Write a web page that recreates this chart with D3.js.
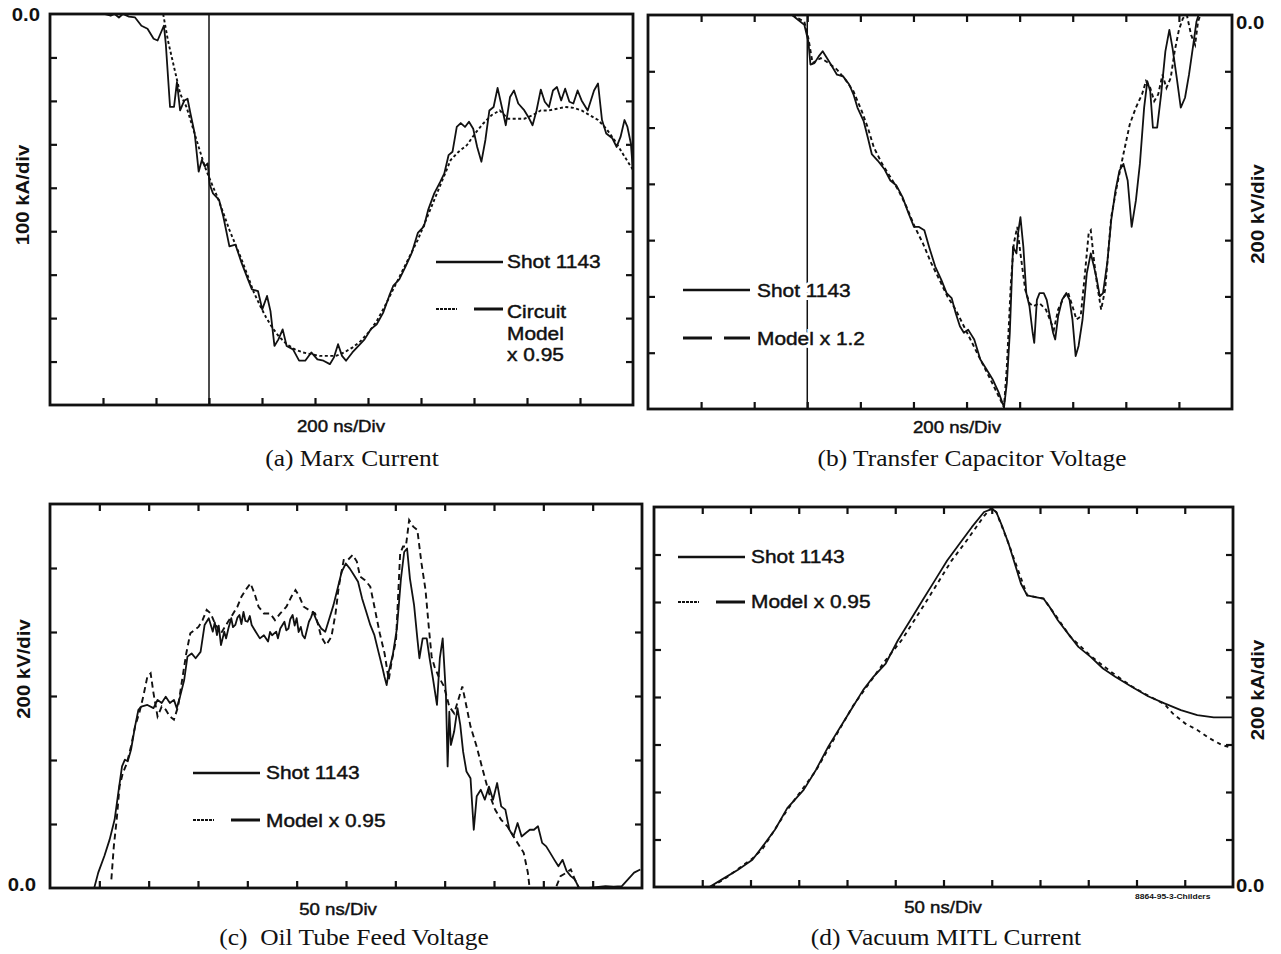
<!DOCTYPE html>
<html>
<head>
<meta charset="utf-8">
<script src="https://cdn.jsdelivr.net/npm/d3@7"></script>
<style>
  body { margin: 0; background: #fff; }
  svg { display: block; }
</style>
</head>
<body>
<div id="chart"></div>
<script>
// (a) Marx current, time in ns, current in kA
var marxShot = [[205,0],[229,-4],[244,0],[260,-8],[275,0],[298,-6],[321,-8],[345,-27],[368,-34],[391,-57],[406,-61],[422,-38],[430,-27],[437,-69],[453,-214],[468,-214],[479,-157],[491,-222],[507,-199],[519,-195],[530,-229],[546,-275],[561,-363],[573,-336],[584,-351],[595,-344],[603,-393],[615,-413],[638,-428],[654,-466],[677,-535],[700,-531],[723,-573],[747,-611],[762,-634],[785,-638],[801,-680],[819,-649],[832,-684],[847,-764],[862,-749],[878,-726],[893,-764],[917,-772],[940,-798],[963,-798],[986,-779],[1009,-795],[1032,-798],[1056,-806],[1071,-791],[1087,-760],[1102,-787],[1117,-798],[1141,-779],[1164,-764],[1187,-749],[1210,-726],[1233,-714],[1257,-688],[1280,-649],[1295,-626],[1318,-611],[1342,-581],[1365,-550],[1388,-504],[1411,-489],[1427,-451],[1450,-413],[1473,-386],[1488,-367],[1504,-325],[1519,-317],[1535,-260],[1550,-251],[1566,-260],[1581,-248],[1597,-264],[1612,-306],[1628,-340],[1643,-290],[1658,-222],[1674,-214],[1689,-170],[1705,-214],[1720,-256],[1736,-191],[1751,-176],[1767,-206],[1790,-222],[1805,-237],[1821,-256],[1836,-222],[1852,-174],[1867,-202],[1883,-214],[1898,-176],[1913,-168],[1929,-199],[1944,-172],[1960,-202],[1975,-206],[1991,-176],[2006,-199],[2029,-222],[2053,-176],[2068,-160],[2083,-244],[2099,-275],[2122,-286],[2138,-306],[2153,-283],[2168,-244],[2179,-260],[2192,-298],[2200,-363]];
var marxModel = [[427,0],[445,-61],[468,-122],[491,-183],[515,-214],[538,-260],[561,-306],[584,-351],[607,-386],[631,-420],[654,-458],[677,-497],[700,-531],[723,-565],[747,-604],[770,-642],[793,-672],[816,-699],[839,-722],[862,-741],[893,-760],[924,-772],[955,-779],[986,-783],[1017,-787],[1048,-787],[1079,-787],[1110,-779],[1141,-768],[1172,-753],[1202,-733],[1233,-707],[1264,-672],[1295,-634],[1326,-596],[1357,-558],[1388,-520],[1419,-474],[1450,-428],[1481,-382],[1512,-336],[1542,-317],[1573,-302],[1604,-275],[1635,-252],[1666,-233],[1697,-222],[1728,-241],[1759,-241],[1790,-241],[1821,-233],[1852,-222],[1883,-222],[1913,-218],[1944,-214],[1975,-216],[2006,-222],[2037,-233],[2068,-244],[2099,-264],[2130,-290],[2161,-321],[2200,-359]];

// (b) transfer capacitor voltage, ns / kV
var transferShot = [[543,0],[566,-18],[589,-35],[604,-94],[612,-176],[627,-171],[643,-147],[658,-129],[674,-153],[689,-176],[712,-212],[735,-218],[758,-247],[774,-282],[789,-329],[812,-376],[828,-435],[843,-494],[866,-518],[890,-547],[913,-588],[936,-606],[959,-647],[982,-706],[1002,-753],[1021,-753],[1041,-765],[1059,-824],[1082,-894],[1105,-941],[1125,-988],[1144,-1006],[1159,-1059],[1175,-1106],[1190,-1129],[1206,-1118],[1229,-1153],[1252,-1224],[1275,-1259],[1298,-1294],[1321,-1341],[1341,-1394],[1352,-1306],[1363,-1129],[1375,-824],[1388,-847],[1394,-776],[1403,-718],[1414,-824],[1425,-988],[1437,-1035],[1449,-1129],[1455,-1165],[1465,-1012],[1475,-988],[1491,-988],[1502,-1012],[1514,-1071],[1526,-1129],[1534,-1153],[1545,-1071],[1560,-1012],[1576,-988],[1588,-1012],[1599,-1082],[1611,-1212],[1622,-1176],[1637,-1082],[1653,-918],[1668,-847],[1680,-894],[1691,-941],[1702,-1000],[1714,-988],[1730,-882],[1745,-729],[1761,-624],[1776,-553],[1791,-529],[1807,-588],[1822,-753],[1838,-659],[1853,-529],[1869,-329],[1881,-235],[1892,-271],[1902,-400],[1918,-400],[1933,-282],[1949,-129],[1964,-53],[1976,-118],[1992,-224],[2007,-329],[2023,-294],[2038,-212],[2054,-106],[2066,-24],[2074,0]];
var transferModel = [[543,0],[589,-24],[604,-82],[620,-171],[651,-153],[681,-171],[712,-194],[743,-229],[774,-271],[805,-341],[828,-400],[851,-471],[882,-529],[913,-576],[944,-624],[974,-682],[1005,-753],[1036,-812],[1067,-882],[1098,-941],[1128,-1000],[1159,-1047],[1190,-1106],[1221,-1165],[1252,-1224],[1283,-1282],[1314,-1341],[1341,-1394],[1352,-1247],[1367,-953],[1378,-812],[1391,-753],[1403,-847],[1421,-976],[1437,-1024],[1452,-1035],[1475,-1024],[1499,-1047],[1514,-1082],[1529,-1118],[1545,-1047],[1568,-1000],[1583,-988],[1599,-1035],[1614,-1082],[1630,-1071],[1645,-929],[1660,-776],[1668,-765],[1680,-871],[1691,-953],[1707,-1047],[1722,-976],[1745,-718],[1768,-600],[1791,-494],[1815,-388],[1838,-329],[1861,-282],[1876,-235],[1892,-259],[1907,-306],[1922,-282],[1938,-212],[1953,-259],[1969,-224],[1984,-129],[2000,-53],[2015,-12],[2030,0],[2046,-71],[2061,-106],[2072,-24],[2081,0]];

// (c) oil tube feed voltage, ns / kV
var oilShot = [[44.8,0],[48.9,48],[55.1,100],[60.5,152],[65.5,214],[69.7,308],[73.0,380],[75.9,401],[78.8,396],[82.1,432],[86.2,505],[89.6,557],[92.5,567],[98.7,572],[104.9,562],[109.0,588],[113.2,578],[117.3,598],[121.5,578],[125.6,588],[128.5,562],[131.8,598],[136.0,650],[139.3,723],[143.5,733],[147.6,718],[152.6,738],[156.7,822],[160.9,843],[165.0,801],[167.0,830],[169.2,790],[171.0,820],[173.3,759],[176.6,801],[178.5,780],[180.8,811],[183.7,843],[185.5,815],[187.8,822],[190.0,845],[192.0,853],[194.0,825],[196.1,863],[198.0,835],[200.3,832],[202.5,850],[204.4,822],[208.5,801],[212.7,780],[216.8,790],[221.0,770],[223.0,800],[225.1,790],[229.3,801],[231.0,780],[233.4,811],[237.6,832],[239.5,805],[241.7,811],[243.5,840],[245.9,853],[248.0,820],[250.0,843],[252.0,800],[254.2,816],[256.0,790],[258.3,780],[262.4,832],[264.5,845],[266.6,863],[270.7,832],[274.9,811],[279.0,801],[283.2,843],[287.3,884],[291.5,936],[295.6,988],[299.8,1014],[303.9,998],[308.0,978],[312.2,957],[316.3,905],[320.5,863],[324.6,822],[328.8,790],[332.9,738],[337.1,686],[339.0,660],[341.2,634],[343.3,676],[347.4,728],[351.6,811],[355.7,967],[359.0,1050],[361.9,1061],[364.8,967],[369.0,884],[372.3,780],[374.4,718],[377.7,780],[381.8,780],[384.7,718],[388.1,655],[392.2,572],[395.1,718],[398.0,780],[401.3,603],[403.0,380],[404.7,551],[406.3,447],[409.6,489],[413.0,562],[415.8,510],[418.7,426],[422.1,364],[426.2,343],[429.5,182],[432.5,287],[436.6,307],[440.7,276],[444.9,317],[449.0,276],[453.2,328],[457.3,255],[461.5,245],[465.6,182],[469.7,161],[473.9,203],[478.0,161],[482.2,172],[486.3,182],[490.5,182],[494.6,193],[498.8,141],[502.9,130],[507.1,109],[511.2,88],[515.3,68],[519.5,88],[523.6,53],[527.8,37],[531.9,27],[536.1,0],[546.4,0],[563.0,6],[571.3,4],[579.6,6],[585.8,27],[592.0,48],[598.3,58]];
var oilModel = [[62.2,27],[64.7,131],[67.6,214],[70.5,318],[73.8,359],[77.9,390],[82.1,442],[86.2,505],[90.4,546],[94.5,598],[98.7,661],[102.0,671],[104.9,609],[109.0,536],[113.2,567],[117.3,557],[121.5,536],[125.6,526],[129.8,567],[133.9,650],[138.1,733],[142.2,796],[146.4,806],[150.5,816],[154.6,837],[158.8,869],[162.9,858],[167.1,827],[173.3,796],[179.5,827],[185.7,858],[189.9,879],[194.0,910],[198.2,931],[203.2,952],[207.3,920],[211.4,879],[216.8,858],[223.1,858],[228.0,837],[233.4,858],[239.6,879],[244.6,910],[248.8,931],[252.9,910],[257.1,879],[262.4,869],[268.7,858],[274.9,785],[279.9,759],[285.2,785],[289.4,858],[292.7,942],[297.7,1025],[301.8,1025],[306.8,1041],[311.0,1020],[314.3,973],[319.2,962],[324.6,942],[328.8,879],[334.2,796],[339.1,733],[343.3,650],[346.6,713],[350.7,775],[354.9,1046],[357.8,1067],[360.7,1067],[364.0,1150],[368.2,1129],[372.3,1119],[376.5,1015],[380.6,931],[383.9,816],[386.8,723],[389.7,692],[393.9,661],[399.3,630],[404.7,567],[409.6,546],[413.8,588],[417.9,630],[422.1,567],[426.2,505],[432.4,442],[438.6,369],[444.9,297],[451.1,245],[457.3,213],[463.5,193],[471.8,151],[480.1,110],[484.3,48],[485.9,6]];
var oilModelTail = [[513.3,6],[517.4,37],[523.6,48],[527.8,58],[531.9,27],[536.1,0]];

// (d) vacuum MITL current, ns / kA
var mitlShot = [[57.4,0],[70.1,31],[87.1,73],[102.0,115],[112.6,171],[125.3,241],[138.1,332],[155.1,409],[167.8,493],[180.6,591],[193.3,675],[206.1,759],[216.7,829],[227.3,885],[240.1,941],[252.8,1039],[265.6,1123],[278.3,1207],[291.1,1291],[303.8,1375],[316.6,1445],[329.3,1515],[342.0,1579],[350.5,1592],[354.8,1578],[361.2,1515],[367.5,1445],[373.9,1361],[380.3,1277],[386.7,1228],[395.2,1221],[403.7,1214],[410.0,1179],[418.5,1123],[429.1,1067],[439.8,1011],[452.5,969],[465.3,920],[478.0,885],[495.0,843],[512.0,803],[529.0,773],[546.0,745],[563.0,724],[580.0,714],[600.0,714]];
var mitlModel = [[59.5,0],[74.4,38],[102.0,120],[112.6,161],[138.1,325],[167.8,490],[206.1,762],[240.1,955],[257.1,1042],[282.6,1205],[308.0,1372],[325.0,1464],[342.0,1562],[349.7,1597],[354.8,1578],[367.5,1445],[386.7,1228],[403.7,1214],[418.5,1130],[431.2,1055],[452.5,973],[473.8,905],[495.0,845],[512.0,806],[529.0,770],[537.5,731],[550.3,689],[563.0,661],[575.7,626],[588.4,598],[600.0,584]];

var shotLabel = "Shot 1143";
var modelLabels = [["Circuit", "Model", "x 0.95"], ["Model x 1.2"], ["Model x 0.95"], ["Model x 0.95"]];
var timeLabels = ["200 ns/Div", "200 ns/Div", "50 ns/Div", "50 ns/Div"];
var ampLabels = ["100 kA/div", "200 kV/div", "200 kV/div", "200 kA/div"];
var captions = ["(a) Marx Current", "(b) Transfer Capacitor Voltage", "(c)  Oil Tube Feed Voltage", "(d) Vacuum MITL Current"];
var zeroLabel = "0.0";
var markerTime = 600;

function init() {
    var W = 1281, H = 954;
    var SX = 1.13;   // the scan is a bit wide
    var sans = "'Liberation Sans', Arial, Helvetica, sans-serif";
    var serif = "'Liberation Serif', 'Times New Roman', serif";

    var svg = d3.select("#chart").append("svg")
        .attr("width", W)
        .attr("height", H);

    function txt(x, y, s, size, o) {
        o = o || {};
        var copies = o.halo ? ["halo", "ink"] : ["ink"];
        var t;
        copies.forEach(function (kind) {
            t = svg.append("text")
                .attr("transform", "translate(" + x + "," + y + ")" + (o.rot ? " rotate(" + o.rot + ")" : "") + " scale(" + SX + ",1)")
                .attr("font-family", o.serif ? serif : sans)
                .attr("font-size", size)
                .attr("font-weight", o.bold ? "bold" : null)
                .attr("text-anchor", o.anchor || "start")
                .attr("fill", kind == "halo" ? "#fff" : "#111")
                .style("white-space", "pre")
                .text(s);
            if (o.mid) t.attr("dominant-baseline", "central");
            if (kind == "halo") {
                t.attr("stroke", "#fff").attr("stroke-width", 6);
            } else if (!o.serif && !o.bold) {
                t.attr("stroke", "#111").attr("stroke-width", 0.45);
            }
        });
        return t;
    }

    var panels = [
        { x0: 50, y0: 14, x1: 633, y1: 405, xmax: 2200, ymin: -900, ymax: 0, nx: 11, ny: 9, top: false,
          shot: [marxShot], model: [marxModel], dash: "3,2.5", marker: true,
          zero: [40, 15, "end"], amp: [29, 195], time: [341, 432], cap: [352, 466],
          leg: { x: 436, ys: 262, yd: 309, tx: 507, bs: 268, bm: [318, 340, 361], halo: false } },
        { x0: 648, y0: 15, x1: 1232, y1: 409, xmax: 2200, ymin: -1400, ymax: 0, nx: 11, ny: 7, top: true,
          shot: [transferShot], model: [transferModel], dash: "4,3", marker: true,
          zero: [1236, 23, "start"], amp: [1264, 214], time: [957, 433], cap: [972, 466],
          leg: { x: 683, ys: 290, yd: 338, tx: 757, bs: 297, bm: [345], halo: true, long: true } },
        { x0: 50, y0: 504, x1: 642, y1: 888, xmax: 600, ymin: 0, ymax: 1200, nx: 12, ny: 6, top: true,
          shot: [oilShot], model: [oilModel, oilModelTail], dash: "6,4", marker: false,
          zero: [36, 885, "end"], amp: [30, 669], time: [338, 915], cap: [354, 945],
          leg: { x: 193, ys: 773, yd: 820, tx: 266, bs: 779, bm: [827], halo: false } },
        { x0: 654, y0: 507, x1: 1233, y1: 887, xmax: 600, ymin: 0, ymax: 1600, nx: 12, ny: 8, top: true,
          shot: [mitlShot], model: [mitlModel], dash: "4,4", marker: false,
          zero: [1236, 886, "start"], amp: [1264, 690], time: [943, 913], cap: [946, 945],
          leg: { x: 678, ys: 557, yd: 602, tx: 751, bs: 563, bm: [608], halo: false } }
    ];

    panels.forEach(function (p, i) {
        var x = d3.scaleLinear().domain([0, p.xmax]).range([p.x0, p.x1]);
        var y = d3.scaleLinear().domain([p.ymin, p.ymax]).range([p.y1, p.y0]);
        var g = svg.append("g");

        var xt = d3.range(1, p.nx).map(function (k) { return k * p.xmax / p.nx; });
        var yt = d3.range(1, p.ny).map(function (k) { return p.ymin + k * (p.ymax - p.ymin) / p.ny; });

        function axis(a, tr) {
            g.append("g").attr("transform", tr)
                .call(a.tickSize(-7).tickFormat(""))
                .call(function (s) {
                    s.select(".domain").remove();
                    s.selectAll(".tick line").attr("stroke", "#111").attr("stroke-width", 2.2);
                });
        }
        axis(d3.axisBottom(x).tickValues(xt), "translate(0," + p.y1 + ")");
        if (p.top) axis(d3.axisTop(x).tickValues(xt), "translate(0," + p.y0 + ")");
        axis(d3.axisLeft(y).tickValues(yt), "translate(" + p.x0 + ",0)");
        axis(d3.axisRight(y).tickValues(yt), "translate(" + p.x1 + ",0)");

        g.append("clipPath").attr("id", "clip" + i)
            .append("rect")
            .attr("x", p.x0).attr("y", p.y0)
            .attr("width", p.x1 - p.x0).attr("height", p.y1 - p.y0);

        var plot = g.append("g").attr("clip-path", "url(#clip" + i + ")");

        if (p.marker) {
            plot.append("line")
                .attr("x1", x(markerTime)).attr("x2", x(markerTime))
                .attr("y1", p.y0).attr("y2", p.y1)
                .attr("stroke", "#111").attr("stroke-width", 1.5);
        }

        var line = d3.line()
            .x(function (d) { return x(d[0]); })
            .y(function (d) { return y(d[1]); });

        p.model.forEach(function (s) {
            plot.append("path").datum(s)
                .attr("d", line).attr("fill", "none")
                .attr("stroke", "#111").attr("stroke-width", 1.9)
                .attr("stroke-dasharray", p.dash);
        });
        p.shot.forEach(function (s) {
            plot.append("path").datum(s)
                .attr("d", line).attr("fill", "none")
                .attr("stroke", "#111").attr("stroke-width", 1.8)
                .attr("stroke-linejoin", "round");
        });

        g.append("rect")
            .attr("x", p.x0).attr("y", p.y0)
            .attr("width", p.x1 - p.x0).attr("height", p.y1 - p.y0)
            .attr("fill", "none").attr("stroke", "#111").attr("stroke-width", 2.8);

        // legend
        var L = p.leg;
        svg.append("line")
            .attr("x1", L.x).attr("x2", L.x + 67).attr("y1", L.ys).attr("y2", L.ys)
            .attr("stroke", "#111").attr("stroke-width", 2.6);
        svg.append("line")
            .attr("x1", L.x).attr("x2", L.x + (L.long ? 29 : 21)).attr("y1", L.yd).attr("y2", L.yd)
            .attr("stroke", "#111").attr("stroke-width", L.long ? 3 : 2.2)
            .attr("stroke-dasharray", L.long ? null : "3,1");
        svg.append("line")
            .attr("x1", L.x + (L.long ? 41 : 38)).attr("x2", L.x + 67).attr("y1", L.yd).attr("y2", L.yd)
            .attr("stroke", "#111").attr("stroke-width", 3);
        txt(L.tx, L.bs, shotLabel, 18.5, { halo: L.halo });
        modelLabels[i].forEach(function (s, k) {
            txt(L.tx, L.bm[k], s, 18.5, { halo: L.halo });
        });

        txt(p.zero[0], p.zero[1], zeroLabel, 18, { bold: true, anchor: p.zero[2], mid: true });
        txt(p.amp[0], p.amp[1], ampLabels[i], 18, { bold: true, anchor: "middle", rot: -90 });
        txt(p.time[0], p.time[1], timeLabels[i], 16.5, { anchor: "middle" });
        txt(p.cap[0], p.cap[1], captions[i], 22.5, { anchor: "middle", serif: true });
    });

    txt(1135, 899, "8864-95-3-Childers", 7.5, { bold: true });
}

window.onload = init;
</script>
</body>
</html>
